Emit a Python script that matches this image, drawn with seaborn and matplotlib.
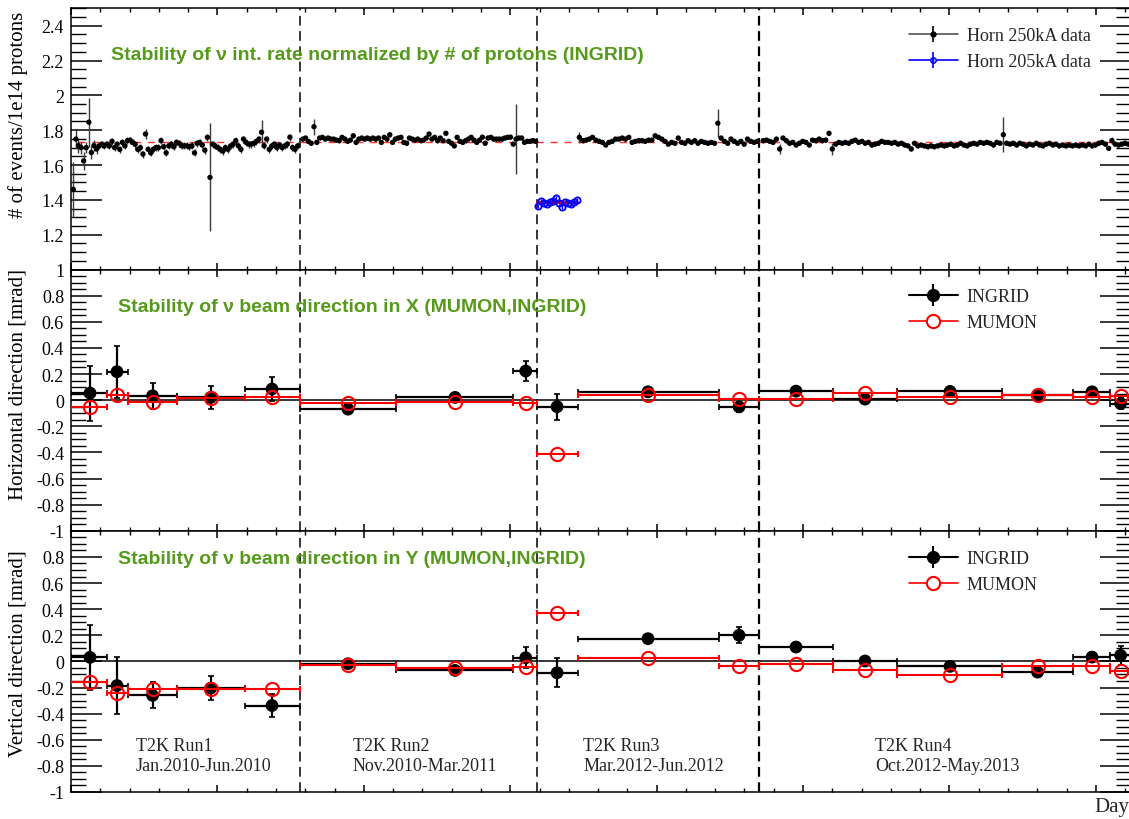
import numpy as np
import pandas as pd
import matplotlib
matplotlib.use("Agg")
import matplotlib.pyplot as plt
from matplotlib.lines import Line2D
from matplotlib.ticker import MultipleLocator, FuncFormatter
import seaborn as sns

# ---------------- data ----------------
# run boundaries (day)
run_bounds = [156.4, 318.6, 470.1]
run_names = ["T2K Run1", "T2K Run2", "T2K Run3", "T2K Run4"]
run_periods = ["Jan.2010-Jun.2010", "Nov.2010-Mar.2011", "Mar.2012-Jun.2012", "Oct.2012-May.2013"]
run_label_day = [44.2, 192.6, 350.0, 549.2]

# top panel: events / 1e14 protons, evenly spaced points inside each run
mean_rate_250 = 1.73
mean_rate_205 = 1.385

run1_days = (1.6, 154.8)
run1_rate = [1.46, 1.749, 1.711, 1.70, 1.624, 1.70, 1.846, 1.672, 1.711, 1.692,
             1.71, 1.72, 1.71, 1.72, 1.71, 1.736, 1.70, 1.72, 1.69, 1.73,
             1.71, 1.74, 1.743, 1.73, 1.72, 1.69, 1.70, 1.663, 1.778, 1.69,
             1.67, 1.69, 1.70, 1.70, 1.74, 1.705, 1.67, 1.71, 1.72, 1.705,
             1.73, 1.725, 1.71, 1.71, 1.71, 1.705, 1.71, 1.67, 1.725, 1.73,
             1.715, 1.685, 1.759, 1.529, 1.72, 1.71, 1.70, 1.69, 1.68, 1.70,
             1.69, 1.71, 1.72, 1.74, 1.71, 1.69, 1.749, 1.73, 1.72, 1.72,
             1.725, 1.736, 1.749, 1.788, 1.71, 1.749, 1.69, 1.71, 1.72, 1.70,
             1.715, 1.70, 1.71, 1.72, 1.76, 1.70, 1.69, 1.71]
run1_err_default = 0.02
run1_err_idx = [0, 1, 2, 3, 4, 5, 6, 7, 8, 9, 28, 53, 73]
run1_err_val = [0.16, 0.05, 0.04, 0.035, 0.05, 0.03, 0.14, 0.035, 0.03, 0.03, 0.03, 0.31, 0.07]

run2_days = (158.3, 317.4)
run2_rate = [1.749, 1.755, 1.736, 1.725, 1.82, 1.73, 1.755, 1.759, 1.749, 1.755,
             1.749, 1.749, 1.743, 1.74, 1.759, 1.749, 1.736, 1.743, 1.768, 1.73,
             1.749, 1.755, 1.749, 1.755, 1.749, 1.755, 1.749, 1.755, 1.73, 1.759,
             1.749, 1.774, 1.73, 1.749, 1.755, 1.759, 1.73, 1.725, 1.755, 1.749,
             1.743, 1.749, 1.74, 1.743, 1.755, 1.778, 1.749, 1.759, 1.74, 1.755,
             1.74, 1.782, 1.736, 1.725,
             1.71, 1.759, 1.736, 1.73, 1.74, 1.749, 1.759, 1.743, 1.73, 1.743,
             1.76, 1.725, 1.755, 1.759, 1.749, 1.749, 1.749, 1.749, 1.755, 1.759,
             1.76, 1.72, 1.749, 1.755, 1.755, 1.73, 1.736, 1.736, 1.74, 1.736]
run2_err_default = 0.012
run2_err_idx = [4, 76]
run2_err_val = [0.045, 0.2]

horn205_days = (319.2, 345.4)
horn205_rate = [1.365, 1.394, 1.380, 1.378, 1.390, 1.394, 1.413, 1.384, 1.359, 1.390,
                1.384, 1.375, 1.390, 1.398]

run3_days = (347.2, 468.8)
run3_rate = [1.759, 1.74, 1.743, 1.749, 1.759, 1.743, 1.736, 1.73, 1.715, 1.73,
             1.736, 1.749, 1.749, 1.755, 1.749, 1.759, 1.73, 1.736, 1.74, 1.74,
             1.736, 1.743, 1.743, 1.768, 1.759, 1.749, 1.736, 1.72, 1.73, 1.725,
             1.755, 1.73, 1.725, 1.74, 1.73, 1.74, 1.725, 1.736, 1.73, 1.725,
             1.73, 1.725, 1.84, 1.755, 1.736, 1.725, 1.749, 1.736, 1.725, 1.736,
             1.72, 1.749, 1.736, 1.73, 1.736]
run3_err_default = 0.012
run3_err_idx = [0, 42]
run3_err_val = [0.03, 0.08]

run4_days = (472.8, 722.2)
run4_rate = [1.74, 1.743, 1.736, 1.73, 1.749,
             1.692, 1.755, 1.74, 1.725, 1.73, 1.715, 1.725, 1.736, 1.73, 1.715,
             1.743, 1.74, 1.749, 1.74, 1.743, 1.782, 1.692, 1.72, 1.73, 1.725,
             1.73, 1.725, 1.736, 1.743, 1.73, 1.736, 1.725, 1.73, 1.715, 1.72,
             1.725, 1.736, 1.73, 1.73, 1.725, 1.73, 1.72, 1.725, 1.715, 1.71,
             1.692, 1.725, 1.71, 1.715, 1.71, 1.705, 1.71, 1.705, 1.71, 1.715,
             1.71, 1.715, 1.72, 1.71, 1.715, 1.725, 1.715, 1.71, 1.72, 1.725,
             1.72, 1.73, 1.725, 1.73, 1.725, 1.715, 1.73, 1.725, 1.774, 1.725,
             1.72, 1.725, 1.715, 1.725, 1.72, 1.71, 1.72, 1.715, 1.725, 1.715,
             1.71, 1.72, 1.725, 1.715, 1.72, 1.71, 1.715, 1.71, 1.715, 1.71,
             1.715, 1.71, 1.715, 1.71, 1.72, 1.71, 1.715, 1.725, 1.73, 1.72,
             1.696, 1.74, 1.72, 1.715, 1.72, 1.725, 1.72]
run4_err_default = 0.012
run4_err_idx = [5, 21, 73, 106]
run4_err_val = [0.03, 0.035, 0.1, 0.02]

# beam direction bins (day), shared by the X and Y panels
bin_lo = [0.0, 24.6, 38.6, 72.7, 118.6, 156.4, 222.0, 301.9, 318.6, 346.3,
          442.3, 470.1, 520.5, 564.5, 635.9, 684.2, 709.5]
bin_hi = [24.6, 38.6, 72.7, 118.6, 156.4, 222.0, 301.9, 318.6, 346.3, 442.3,
          470.1, 520.5, 564.5, 635.9, 684.2, 709.5, 726.8]
bin_day = [13.0, 31.4, 55.7, 95.4, 137.3, 189.2, 262.3, 310.6, 332.0, 394.1,
           456.3, 495.2, 542.3, 600.4, 660.2, 697.4, 716.9]

ingrid_x = [0.054, 0.218, 0.033, 0.021, 0.085, -0.069, 0.021, 0.223, -0.05, 0.064,
            -0.051, 0.069, 0.008, 0.067, 0.038, 0.064, -0.026]
ingrid_x_err = [0.21, 0.2, 0.1, 0.085, 0.09, 0.02, 0.02, 0.08, 0.1, 0.02,
                0.04, 0.03, 0.02, 0.02, 0.02, 0.04, 0.045]
mumon_x = [-0.049, 0.038, -0.013, 0.013, 0.026, -0.023, -0.013, -0.018, -0.41, 0.038,
           0.008, 0.008, 0.051, 0.026, 0.038, 0.021, 0.028]

ingrid_y = [0.031, -0.185, -0.26, -0.205, -0.338, -0.018, -0.069, 0.028, -0.087, 0.174,
            0.2, 0.11, 0.003, -0.038, -0.082, 0.033, 0.046]
ingrid_y_err = [0.25, 0.22, 0.1, 0.09, 0.09, 0.03, 0.02, 0.08, 0.11, 0.02,
                0.06, 0.04, 0.02, 0.02, 0.02, 0.04, 0.07]
mumon_y = [-0.159, -0.241, -0.21, -0.21, -0.21, -0.031, -0.049, -0.044, 0.367, 0.026,
           -0.038, -0.018, -0.064, -0.103, -0.038, -0.036, -0.077]

titles = ["Stability of ν int. rate normalized by # of protons (INGRID)",
          "Stability of ν beam direction in X (MUMON,INGRID)",
          "Stability of ν beam direction in Y (MUMON,INGRID)"]
ylabels = ["# of events/1e14 protons", "Horizontal direction [mrad]", "Vertical direction [mrad]"]

GREEN = "#559a1a"


def run_series(days, rate, err_default, err_idx, err_val):
    x = np.linspace(days[0], days[1], len(rate))
    err = np.full(len(rate), err_default)
    err[err_idx] = err_val
    return x, np.array(rate), err


sns.set_theme(style="ticks")
plt.rcParams["font.family"] = ["Liberation Serif", "DejaVu Serif"]
plt.rcParams["axes.unicode_minus"] = False
plt.rcParams["lines.scale_dashes"] = False

fig = plt.figure(figsize=(11.29, 8.20), dpi=100)
left, width = 71 / 1129, 1060 / 1129
edges = [1 - 9.3 / 820, 1 - 270.5 / 820, 1 - 531.8 / 820, 1 - 793 / 820]
axes = [fig.add_axes([left, edges[i + 1], width, edges[i] - edges[i + 1]]) for i in range(3)]


def fmt(hide_one):
    def f(v, pos):
        v = round(v, 3)
        if hide_one and abs(v - 1) < 1e-6:
            return ""
        if v == 0:
            return "0"
        return f"{v:g}"
    return FuncFormatter(f)


def style(ax, ylim, hide_one):
    ax.set_xlim(0, 724)
    ax.set_ylim(*ylim)
    ax.xaxis.set_major_locator(MultipleLocator(100))
    ax.xaxis.set_minor_locator(MultipleLocator(20))
    ax.yaxis.set_major_locator(MultipleLocator(0.2))
    ax.yaxis.set_minor_locator(MultipleLocator(0.05))
    ax.yaxis.set_major_formatter(fmt(hide_one))
    ax.tick_params(which="both", direction="in", top=True, right=True, color="black")
    ax.tick_params(axis="y", which="major", length=22, width=1.1, labelsize=13, pad=5,
                   labelcolor="black")
    ax.tick_params(axis="y", which="minor", length=11, width=1)
    ax.tick_params(axis="x", which="major", length=5, width=1.1, labelbottom=False)
    ax.tick_params(axis="x", which="minor", length=3, width=1)
    for s in ax.spines.values():
        s.set_color("black")
        s.set_linewidth(1.1)
    for b in run_bounds:
        ax.axvline(b, color="black", lw=1.1 if b < 400 else 1.6, dashes=(7, 4), zorder=1)
    ax.set_xlabel("")
    ax.set_ylabel("")


# ---------------- top panel ----------------
ax = axes[0]
style(ax, (1.0, 2.5), False)
parts = [run_series(run1_days, run1_rate, run1_err_default, run1_err_idx, run1_err_val),
         run_series(run2_days, run2_rate, run2_err_default, run2_err_idx, run2_err_val),
         run_series(run3_days, run3_rate, run3_err_default, run3_err_idx, run3_err_val),
         run_series(run4_days, run4_rate, run4_err_default, run4_err_idx, run4_err_val)]
top = pd.DataFrame({"day": np.concatenate([p[0] for p in parts]),
                    "rate": np.concatenate([p[1] for p in parts]),
                    "err": np.concatenate([p[2] for p in parts])})
ax.plot([4.8, 724], [mean_rate_250, mean_rate_250], color="#ff3030", lw=1, dashes=(5, 5), zorder=1)
ax.errorbar(top["day"], top["rate"], yerr=top["err"], fmt="none", ecolor="#3a3a3a",
            elinewidth=1, zorder=2)
sns.scatterplot(data=top, x="day", y="rate", color="black", s=15, edgecolor="none",
                ax=ax, zorder=3, legend=False)

b_x = np.linspace(horn205_days[0], horn205_days[1], len(horn205_rate))
ax.plot([run_bounds[1], horn205_days[1]], [mean_rate_205, mean_rate_205], color="red", lw=2, zorder=2)
ax.errorbar(b_x, horn205_rate, yerr=0.01, fmt="o", ms=4.5, mfc="none", mec="blue", mew=1.3,
            ecolor="blue", elinewidth=1, zorder=3)
ax.set_xlabel("")
ax.set_ylabel("")

h250 = (Line2D([], [], color="#555555", lw=1.2),
        Line2D([], [], color="black", marker="o", ms=3.5, ls="none"),
        Line2D([], [], color="black", marker="|", ms=12, mew=1.2, ls="none"))
h205 = (Line2D([], [], color="blue", lw=1.2),
        Line2D([], [], color="blue", marker="o", ms=4, mfc="#9999ff", ls="none"),
        Line2D([], [], color="blue", marker="|", ms=12, mew=1.2, ls="none"))
ax.legend([h250, h205], ["Horn 250kA data", "Horn 205kA data"], loc="upper left",
          bbox_to_anchor=(0.7906, 0.927), frameon=False, fontsize=13, handlelength=2.7,
          handletextpad=0.5, labelspacing=0.5, borderpad=0, borderaxespad=0)

# ---------------- direction panels ----------------
xerr = [np.array(bin_day) - np.array(bin_lo), np.array(bin_hi) - np.array(bin_day)]
legend_y = [0.928, 0.925]
for ax, ing, ing_err, mum, ly in [(axes[1], ingrid_x, ingrid_x_err, mumon_x, legend_y[0]),
                                  (axes[2], ingrid_y, ingrid_y_err, mumon_y, legend_y[1])]:
    style(ax, (-1.0, 1.0), True)
    ax.axhline(0, color="black", lw=1.1, zorder=1)
    ax.errorbar(bin_day, ing, xerr=xerr, yerr=ing_err, fmt="none", ecolor="black",
                elinewidth=1.6, capsize=2.5, capthick=1.2, zorder=3)
    d = pd.DataFrame({"day": bin_day, "val": ing})
    sns.scatterplot(data=d, x="day", y="val", color="black", s=85, edgecolor="none",
                    ax=ax, zorder=4, legend=False)
    ax.errorbar(bin_day, mum, xerr=xerr, fmt="o", ms=9.5, mfc="none", mec="red", mew=1.5,
                ecolor="red", elinewidth=1.5, capsize=2.5, capthick=1.2, zorder=5)
    ax.set_xlabel("")
    ax.set_ylabel("")
    h_ing = (Line2D([], [], color="black", lw=1.5),
             Line2D([], [], color="black", marker="o", ms=8.5, ls="none"),
             Line2D([], [], color="black", marker="|", ms=16, mew=1.5, ls="none"))
    h_mum = (Line2D([], [], color="red", lw=1.2),
             Line2D([], [], color="red", marker="o", ms=9.5, mfc="white", mew=1.5, ls="none"))
    ax.legend([h_ing, h_mum], ["INGRID", "MUMON"], loc="upper left",
              bbox_to_anchor=(0.7906, ly), frameon=False, fontsize=13, handlelength=2.7,
              handletextpad=0.5, labelspacing=0.5, borderpad=0, borderaxespad=0)

# titles and axis labels
title_pos = [(0.0375, 0.825), (0.0443, 0.857), (0.0443, 0.893)]
label_y = [0.1995, 0.121, 0.138]
for ax, t, (tx, ty), lab, ly in zip(axes, titles, title_pos, ylabels, label_y):
    ax.text(tx, ty, t, transform=ax.transAxes, color=GREEN, fontsize=14, fontweight="bold",
            family=["Liberation Sans", "DejaVu Sans"], va="center", ha="left")
    ax.set_ylabel(lab, fontsize=15, color="black")
    ax.yaxis.label.set_ha("left")
    ax.yaxis.set_label_coords(-0.0406, ly)

for name, period, xd in zip(run_names, run_periods, run_label_day):
    axes[2].text(xd, -0.646, name, fontsize=13, ha="left", va="center")
    axes[2].text(xd, -0.80, period, fontsize=13, ha="left", va="center")

fig.text(1094 / 1129, 1 - 808 / 820, "Day", fontsize=15, ha="left", va="center")

fig.savefig("out.png", dpi=100)
